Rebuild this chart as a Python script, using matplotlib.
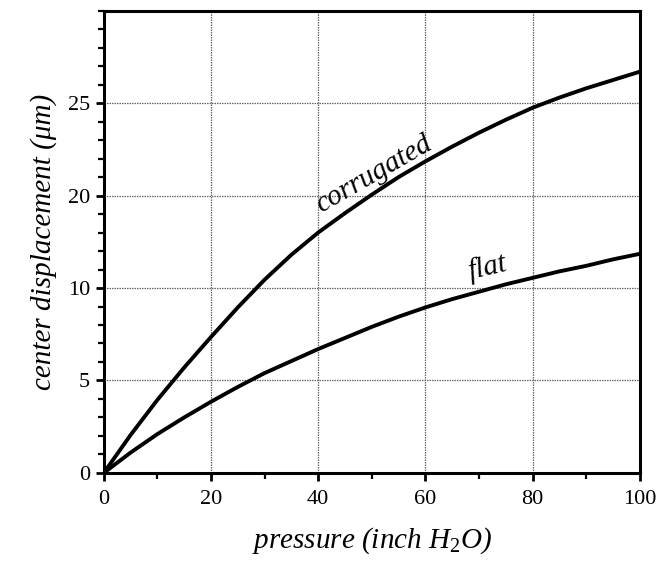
import numpy as np
import matplotlib.pyplot as plt
from matplotlib.ticker import MultipleLocator

# pressure (inch H2O)
pressure = [0, 5, 10, 15, 20, 25, 30, 35, 40, 45, 50,
            55, 60, 65, 70, 75, 80, 85, 90, 95, 100]
# in axis units (gridlines every 5)
corrugated = [0, 2.05, 3.95, 5.7, 7.35, 8.95, 10.45, 11.8, 13.0, 14.05, 15.05,
              16.0, 16.85, 17.65, 18.4, 19.1, 19.75, 20.3, 20.8, 21.25, 21.7]
flat = [0, 1.1, 2.1, 3.0, 3.85, 4.65, 5.4, 6.05, 6.7, 7.3, 7.9,
        8.45, 8.95, 9.4, 9.8, 10.2, 10.55, 10.9, 11.2, 11.55, 11.85]

yticks = [0, 5, 10, 15, 20]
ytick_labels = ['0', '5', '10', '20', '25']
xticks = [0, 20, 40, 60, 80, 100]

plt.rcParams['font.family'] = ['Liberation Serif', 'DejaVu Serif']
plt.rcParams['mathtext.fontset'] = 'custom'
plt.rcParams['mathtext.it'] = 'Liberation Serif:italic'
plt.rcParams['mathtext.rm'] = 'Liberation Serif'

fig = plt.figure(figsize=(6.61, 5.61), dpi=100)
ax = fig.add_axes([0.157, 0.157, 0.811, 0.824])

ax.plot(pressure, corrugated, color='black', lw=2.8, solid_capstyle='round')
ax.plot(pressure, flat, color='black', lw=2.8, solid_capstyle='round')

ax.set_xlim(0, 100)
ax.set_ylim(0, 25)
ax.set_xticks(xticks)
ax.set_yticks(yticks)
ax.set_yticklabels(ytick_labels)
ax.xaxis.set_minor_locator(MultipleLocator(10))
ax.yaxis.set_minor_locator(MultipleLocator(1))

ax.grid(True, which='major', color='#666666', ls=(0, (1.2, 0.8)), lw=0.9)
for s in ax.spines.values():
    s.set_linewidth(2.2)
ax.tick_params(which='major', direction='out', length=6, width=2, labelsize=16)
ax.tick_params(axis='x', which='major', pad=6)
ax.tick_params(axis='y', which='major', pad=4)
ax.tick_params(which='minor', direction='out', length=4, width=1.6)

ax.set_xlabel('pressure (inch H$_2$O)', fontsize=21, style='italic', labelpad=12)
ax.set_ylabel('center displacement (\u03bcm)', fontsize=21, style='italic', labelpad=8)

ax.text(50.4, 16.15, 'corrugated', fontsize=21, style='italic', rotation=30,
        ha='center', va='center')
ax.text(71.6, 11.1, 'flat', fontsize=21, style='italic', rotation=13,
        ha='center', va='center')

fig.savefig('out.png', dpi=100)
